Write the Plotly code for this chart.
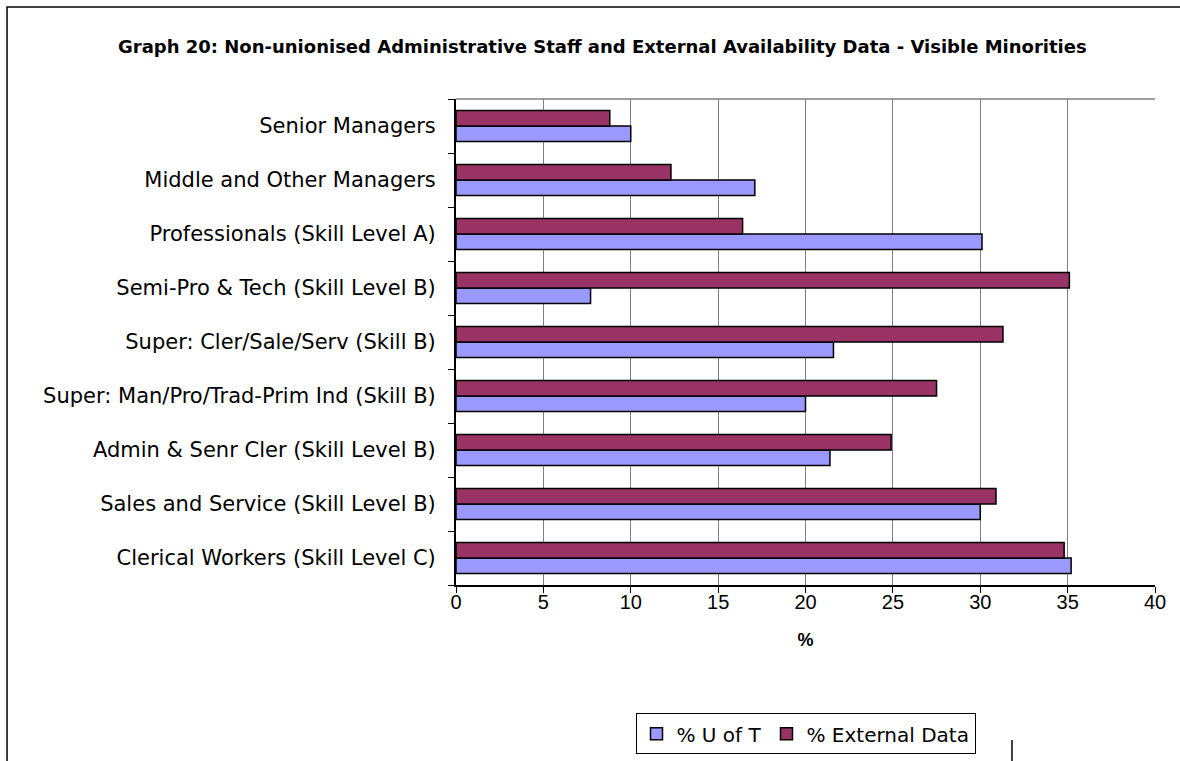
import plotly.graph_objects as go

# Categories listed top-to-bottom as shown in the chart
categories = [
    "Senior Managers",
    "Middle and Other Managers",
    "Professionals (Skill Level A)",
    "Semi-Pro & Tech (Skill Level B)",
    "Super: Cler/Sale/Serv (Skill B)",
    "Super: Man/Pro/Trad-Prim Ind (Skill B)",
    "Admin & Senr Cler (Skill Level B)",
    "Sales and Service (Skill Level B)",
    "Clerical Workers (Skill Level C)",
]
uoft = [10.0, 17.1, 30.1, 7.7, 21.6, 20.0, 21.4, 30.0, 35.2]
external = [8.8, 12.3, 16.4, 35.1, 31.3, 27.5, 24.9, 30.9, 34.8]
x_ticks = [0, 5, 10, 15, 20, 25, 30, 35, 40]

# Excel draws first category at the bottom
cats_plot = categories[::-1]
uoft_plot = uoft[::-1]
ext_plot = external[::-1]

FONT = "DejaVu Sans, sans-serif"
FONT2 = "Liberation Sans, Arial, sans-serif"

fig = go.Figure()
fig.add_trace(go.Bar(
    y=cats_plot, x=uoft_plot, orientation="h", name="% U of T",
    marker=dict(color="#9999FF", line=dict(color="black", width=1.5)),
))
fig.add_trace(go.Bar(
    y=cats_plot, x=ext_plot, orientation="h", name="% External Data",
    marker=dict(color="#993366", line=dict(color="black", width=1.5)),
))

fig.update_layout(
    width=1180, height=761,
    margin=dict(l=456, r=25, t=99, b=176, autoexpand=False),
    paper_bgcolor="white", plot_bgcolor="white",
    barmode="group", bargap=0.43, bargroupgap=0,
    font=dict(family=FONT, size=20, color="black"),
    showlegend=True,
    legend=dict(
        orientation="h", x=0.5, xanchor="center", y=-0.264, yanchor="top",
        bordercolor="black", borderwidth=1, bgcolor="white",
        font=dict(family=FONT, size=20, color="black"),
        itemwidth=30, tracegroupgap=0,
    ),
    xaxis=dict(
        range=[0, 40], tickvals=x_ticks, ticktext=[str(v) for v in x_ticks],
        tickfont=dict(family=FONT2, size=20),
        showgrid=True, gridcolor="#808080", gridwidth=1,
        showline=True, linecolor="black", linewidth=2,
        ticks="outside", ticklen=6, tickcolor="black",
        zeroline=False, ticklabelstandoff=-8,
        title=dict(text="<b>%</b>", font=dict(family=FONT2, size=18), standoff=21),
    ),
    yaxis=dict(
        categoryorder="array", categoryarray=cats_plot,
        tickfont=dict(family=FONT, size=21),
        showline=True, linecolor="black", linewidth=2,
        ticks="outside", ticklen=6, tickcolor="black", tickson="boundaries",
        showgrid=False, ticklabelstandoff=14,
    ),
    annotations=[dict(
        text="<b>Graph 20: Non-unionised Administrative Staff and External Availability Data - Visible Minorities</b>",
        xref="paper", yref="paper", x=0.209, y=1.109, xanchor="center", yanchor="middle",
        showarrow=False, font=dict(family=FONT, size=18, color="black"),
    )],
    shapes=[
        dict(type="line", xref="paper", yref="paper", x0=0, x1=1, y0=1, y1=1,
             line=dict(color="#808080", width=1.5), layer="below"),
        dict(type="rect", xref="paper", yref="paper", x0=-0.6423, x1=1.2, y0=-0.6, y1=1.1893,
             line=dict(color="black", width=1.5), layer="below"),
        dict(type="line", xref="paper", yref="paper", x0=0.7954, x1=0.7954, y0=-0.319, y1=-0.6,
             line=dict(color="black", width=1.5)),
    ],
)

fig.write_html(
    "out.html",
    config={"displayModeBar": False},
    post_script="document.body.style.margin='0';document.body.style.overflow='hidden';",
)
